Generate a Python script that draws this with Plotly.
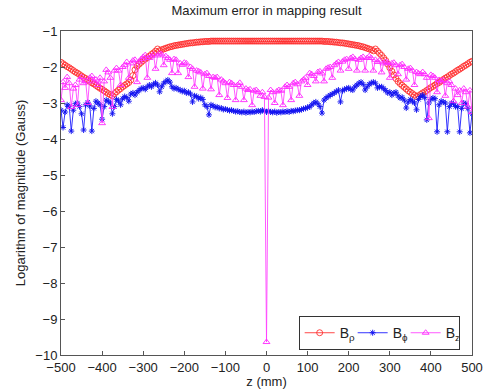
import plotly.graph_objects as go

z_start = -500
z_step = 5

b_rho = [
    # -500 .. -375
    -1.87, -1.91, -1.95, -1.99, -2.02, -2.06, -2.10, -2.14, -2.17, -2.21,
    -2.25, -2.29, -2.32, -2.36, -2.40, -2.44, -2.47, -2.51, -2.55, -2.59,
    -2.62, -2.66, -2.70, -2.74, -2.77, -2.80,
    # -370 .. -140
    -2.74, -2.69, -2.64, -2.60, -2.55, -2.51, -2.47, -2.43, -2.36, -2.24,
    -2.08, -1.98, -1.92, -1.87, -1.82, -1.78, -1.74, -1.70, -1.65, -1.61,
    -1.56, -1.50, -1.55, -1.52, -1.50, -1.48, -1.46, -1.44, -1.43, -1.41,
    -1.40, -1.39, -1.38, -1.37, -1.36, -1.35, -1.34, -1.33, -1.33, -1.32,
    -1.31, -1.31, -1.30, -1.30, -1.29, -1.29, -1.29,
    # -135 .. 135
    -1.28, -1.28, -1.28, -1.28, -1.28, -1.28, -1.28, -1.28, -1.28, -1.28,
    -1.28, -1.28, -1.28, -1.28, -1.28, -1.28, -1.28, -1.28, -1.28, -1.28,
    -1.28, -1.28, -1.28, -1.28, -1.28, -1.28, -1.28, -1.28, -1.28, -1.28,
    -1.28, -1.28, -1.28, -1.28, -1.28, -1.28, -1.28, -1.28, -1.28, -1.28,
    -1.28, -1.28, -1.28, -1.28, -1.28, -1.28, -1.28, -1.28, -1.28, -1.28,
    -1.28, -1.28, -1.28, -1.28, -1.28,
    # 140 .. 370
    -1.29, -1.29, -1.29, -1.30, -1.30, -1.31, -1.31, -1.32, -1.33, -1.33,
    -1.34, -1.35, -1.36, -1.37, -1.38, -1.39, -1.40, -1.41, -1.43, -1.44,
    -1.46, -1.48, -1.50, -1.52, -1.55, -1.50, -1.56, -1.62, -1.68, -1.75,
    -1.82, -1.92, -2.02, -2.12, -2.22, -2.32, -2.40, -2.46, -2.51, -2.56,
    -2.61, -2.66, -2.70, -2.74, -2.78, -2.82, -2.80,
    # 375 .. 500
    -2.76, -2.72, -2.69, -2.65, -2.61, -2.57, -2.54, -2.50, -2.46, -2.43,
    -2.39, -2.35, -2.31, -2.28, -2.24, -2.20, -2.17, -2.13, -2.09, -2.06,
    -2.02, -1.98, -1.95, -1.91, -1.87, -1.84,
]

b_phi = [
    # -500 .. -255
    -3.20, -3.68, -3.25, -3.05, -3.10, -3.78, -3.20, -3.02, -3.00, -3.10,
    -3.30, -3.75, -3.05, -2.98, -3.08, -3.78, -3.15, -2.95, -3.00, -3.05,
    -3.45, -3.10, -2.92, -2.95, -3.00, -3.30, -3.10, -2.90, -2.95, -3.05,
    -2.88, -2.82, -2.85, -2.95, -2.75, -2.72, -2.78, -2.70, -2.65, -2.60,
    -2.58, -2.62, -2.55, -2.50, -2.55, -2.48, -2.44, -2.50, -2.69, -2.55,
    # -250 .. -5
    -2.45, -2.40, -2.36, -2.42, -2.55, -2.60, -2.58, -2.62, -2.64, -2.68,
    -2.66, -2.72, -2.70, -2.75, -2.97, -2.80, -2.82, -2.88, -2.85, -2.90,
    -3.05, -3.10, -3.33, -3.05, -3.08, -3.12, -3.11, -3.15, -3.14, -3.18,
    -3.17, -3.19, -3.21, -3.20, -3.22, -3.24, -3.23, -3.25, -3.26, -3.24,
    -3.27, -3.25, -3.26, -3.24, -3.25, -3.23, -3.22, -3.24, -3.20, -3.22,
    # 0
    -3.25,
    # 5 .. 250
    -3.22, -3.25, -3.26, -3.24, -3.27, -3.25, -3.26, -3.24, -3.25, -3.23,
    -3.25, -3.22, -3.23, -3.21, -3.20, -3.20, -3.18, -3.16, -3.15, -3.12,
    -3.11, -3.05, -3.00, -2.97, -3.02, -3.10, -3.28, -2.92, -2.86, -2.82,
    -2.78, -2.75, -2.72, -2.68, -2.64, -2.97, -2.66, -2.62, -2.60, -2.58,
    -2.62, -2.64, -2.55, -2.50, -2.45, -2.42, -2.48, -2.64, -2.55, -2.48,
    # 255 .. 500
    -2.44, -2.42, -2.45, -2.58, -2.55, -2.55, -2.60, -2.65, -2.72, -2.70,
    -2.78, -2.72, -2.70, -2.80, -2.86, -2.84, -2.92, -3.14, -2.97, -2.90,
    -2.95, -3.00, -3.19, -2.90, -2.82, -2.78, -2.85, -3.47, -3.00, -2.90,
    -2.86, -2.88, -3.80, -3.05, -2.95, -2.97, -3.00, -3.80, -3.10, -3.00,
    -3.02, -3.10, -3.10, -3.80, -3.15, -3.00, -3.02, -3.15, -3.83, -3.30,
]

b_z = [
    # -500 .. -255
    -2.92, -2.42, -2.58, -2.28, -2.45, -3.11, -2.60, -2.50, -3.06, -2.35,
    -2.28, -2.45, -2.40, -3.00, -2.30, -2.25, -2.40, -2.35, -2.50, -2.30,
    -3.56, -2.40, -2.08, -2.15, -2.30, -3.11, -2.10, -2.03, -2.10, -2.50,
    -2.00, -1.95, -1.86, -2.30, -1.90, -1.82, -1.80, -2.42, -1.85, -1.78,
    -1.72, -1.67, -2.30, -1.75, -1.70, -1.65, -2.05, -1.68, -1.62, -1.65,
    # -250 .. -5
    -1.95, -1.70, -1.75, -1.80, -2.17, -1.78, -1.80, -2.17, -1.90, -1.94,
    -1.88, -1.90, -2.28, -2.00, -2.05, -2.55, -2.10, -2.12, -2.15, -2.60,
    -2.20, -2.17, -2.25, -2.62, -2.28, -2.30, -2.28, -2.78, -2.35, -2.40,
    -2.45, -2.86, -2.42, -2.45, -2.50, -2.92, -2.50, -2.44, -2.55, -2.92,
    -2.60, -2.64, -2.62, -3.06, -2.66, -2.64, -2.70, -2.80, -2.70, -2.83,
    # 0
    -9.64,
    # 5 .. 250
    -2.85, -2.64, -2.70, -3.00, -2.68, -2.64, -2.66, -3.06, -2.55, -2.50,
    -2.55, -2.92, -2.45, -2.42, -2.48, -2.80, -2.40, -2.35, -2.30, -2.50,
    -2.17, -2.20, -2.25, -2.40, -2.14, -2.12, -2.18, -2.40, -2.05, -2.02,
    -2.00, -2.30, -1.95, -1.90, -1.86, -2.10, -1.85, -1.80, -1.78, -2.05,
    -1.75, -1.72, -1.78, -2.10, -1.80, -1.75, -1.72, -2.10, -1.75, -1.70,
    # 255 .. 500
    -1.75, -2.10, -1.80, -1.86, -1.82, -2.15, -1.90, -1.86, -1.88, -2.30,
    -1.90, -1.88, -1.95, -2.20, -1.95, -1.92, -2.00, -2.35, -2.05, -2.03,
    -2.10, -2.50, -2.14, -2.18, -2.20, -2.14, -2.20, -2.30, -3.42, -2.22,
    -2.25, -2.30, -2.70, -2.36, -2.40, -2.36, -2.80, -2.45, -2.40, -2.50,
    -2.95, -2.60, -2.78, -2.65, -3.00, -2.60, -2.70, -3.10, -2.65, -3.25,
]

n = 201
assert len(b_rho) == n, len(b_rho)
assert len(b_phi) == n, len(b_phi)
assert len(b_z) == n, len(b_z)
z = [z_start + z_step * i for i in range(n)]

x_ticks = [-500, -400, -300, -200, -100, 0, 100, 200, 300, 400, 500]
y_ticks = [-10, -9, -8, -7, -6, -5, -4, -3, -2, -1]

font = "Liberation Sans, Arial, sans-serif"
txt = "#222222"

fig = go.Figure()
fig.add_trace(go.Scatter(
    x=z, y=b_rho, mode="lines+markers", name="B<sub>ρ</sub>",
    line=dict(color="rgba(255,40,40,0.85)", width=1),
    marker=dict(symbol="circle-open", size=6, color="rgba(255,40,40,0.85)", line=dict(width=1)),
))
fig.add_trace(go.Scatter(
    x=z, y=b_phi, mode="lines+markers", name="B<sub>ϕ</sub>",
    line=dict(color="rgba(30,30,255,0.9)", width=1),
    marker=dict(symbol="asterisk-open", size=5, color="rgba(20,20,240,0.95)",
                line=dict(width=1, color="rgba(20,20,240,0.95)")),
))
fig.add_trace(go.Scatter(
    x=z, y=b_z, mode="lines+markers", name="B<sub>z</sub>",
    line=dict(color="rgba(255,60,255,0.85)", width=1),
    marker=dict(symbol="triangle-up-open", size=6, color="rgba(255,40,255,0.9)", line=dict(width=1)),
))

axis_common = dict(
    showline=True, mirror=True, linecolor="#555555", linewidth=1,
    ticks="inside", ticklen=4, tickcolor="#555555",
    showgrid=False, zeroline=False, automargin=False,
    tickfont=dict(family=font, size=13, color=txt),
)

fig.update_layout(
    width=488, height=389,
    margin=dict(l=61, r=16, t=31, b=34),
    paper_bgcolor="white", plot_bgcolor="white",
    title=dict(text="Maximum error in mapping result", x=0.5, xref="paper", xanchor="center",
               y=0.985, yanchor="top", font=dict(family=font, size=13, color=txt)),
    xaxis=dict(range=[-500, 500], tickvals=x_ticks,
               title=dict(text="z (mm)", font=dict(family=font, size=13, color=txt), standoff=0),
               **axis_common),
    yaxis=dict(range=[-10, -1], tickvals=y_ticks,
               title=dict(text="Logarithm of magnitude (Gauss)", font=dict(family=font, size=13, color=txt),
                          standoff=6),
               **axis_common),
    legend=dict(orientation="h", x=0.97, xanchor="right", y=0.015, yanchor="bottom",
                bgcolor="white", bordercolor="#333333", borderwidth=1,
                font=dict(family=font, size=14, color=txt),
                itemwidth=30, entrywidth=8, entrywidthmode="pixels", tracegroupgap=0),
    showlegend=True,
)

fig.write_html("out.html")
